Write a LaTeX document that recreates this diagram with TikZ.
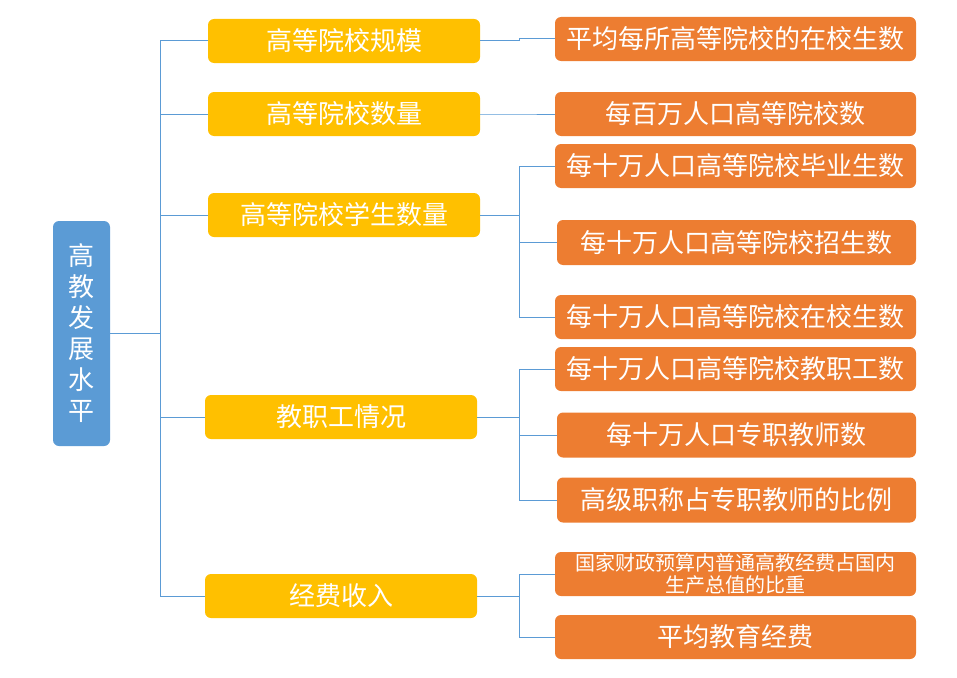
\documentclass[tikz,border=0pt]{standalone}
\usepackage{fontspec}
\setmainfont{Noto Sans CJK SC}
\definecolor{rootblue}{HTML}{5B9BD5}
\definecolor{ybox}{HTML}{FFC000}
\definecolor{obox}{HTML}{ED7D31}
\definecolor{lineblue}{HTML}{5B9BD5}
\begin{document}
\begin{tikzpicture}[x=1pt,y=-1pt,
  box/.style={rectangle, rounded corners=6pt, text=white, inner sep=0pt, font=\fontsize{26}{28}\selectfont, align=center},
  ynode/.style={box, fill=ybox, minimum width=272pt, minimum height=44pt},
  onode/.style={box, fill=obox, minimum width=361pt, minimum height=44pt},
  onodeb/.style={box, fill=obox, minimum width=359pt, minimum height=45pt},
  conn/.style={draw=lineblue, line width=1pt}]
\useasboundingbox (0,0) rectangle (957,677);
\node[box, fill=rootblue, minimum width=57pt, minimum height=225pt, font=\fontsize{26}{31}\selectfont] (root) at (81.5,333.5) {高\\教\\发\\展\\水\\平};
\node[ynode] (y1) at (344,41) {高等院校规模};
\node[ynode] (y2) at (344,114) {高等院校数量};
\node[ynode] (y3) at (344,215) {高等院校学生数量};
\node[ynode] (y4) at (341,417) {教职工情况};
\node[ynode] (y5) at (341,596) {经费收入};
\node[onode] (oa) at (735.5,39) {平均每所高等院校的在校生数};
\node[onode] (ob) at (735.5,114) {每百万人口高等院校数};
\node[onode] (oc) at (735.5,166) {每十万人口高等院校毕业生数};
\node[onodeb] (od) at (736.5,242.5) {每十万人口高等院校招生数};
\node[onode] (oe) at (735.5,317) {每十万人口高等院校在校生数};
\node[onode] (of) at (735.5,369) {每十万人口高等院校教职工数};
\node[onodeb] (og) at (736.5,435) {每十万人口专职教师数};
\node[onodeb] (oh) at (736.5,500) {高级职称占专职教师的比例};
\node[onode, font=\fontsize{20}{22}\selectfont] (oi) at (735.5,574) {国家财政预算内普通高教经费占国内\\生产总值的比重};
\node[onode] (oj) at (735.5,637) {平均教育经费};
\coordinate (t) at (160,333.5);
\draw[conn] (root.east) -- (t);
\foreach \n in {y1,y2,y3,y4,y5} \draw[conn] (t) |- (\n.west);
\coordinate (b1) at (519,41);
\coordinate (b2) at (519,114);
\coordinate (b3) at (519,215);
\coordinate (b4) at (519,417);
\coordinate (b5) at (519,596);
\draw[conn] (y1.east) -- (b1) |- (oa.west);
\draw[conn] (y2.east) -- (b2) |- (ob.west);
\draw[conn] (y3.east) -- (b3);
\foreach \n in {oc,od,oe} \draw[conn] (b3) |- (\n.west);
\draw[conn] (y4.east) -- (b4);
\foreach \n in {of,og,oh} \draw[conn] (b4) |- (\n.west);
\draw[conn] (y5.east) -- (b5);
\foreach \n in {oi,oj} \draw[conn] (b5) |- (\n.west);
\end{tikzpicture}
\end{document}
